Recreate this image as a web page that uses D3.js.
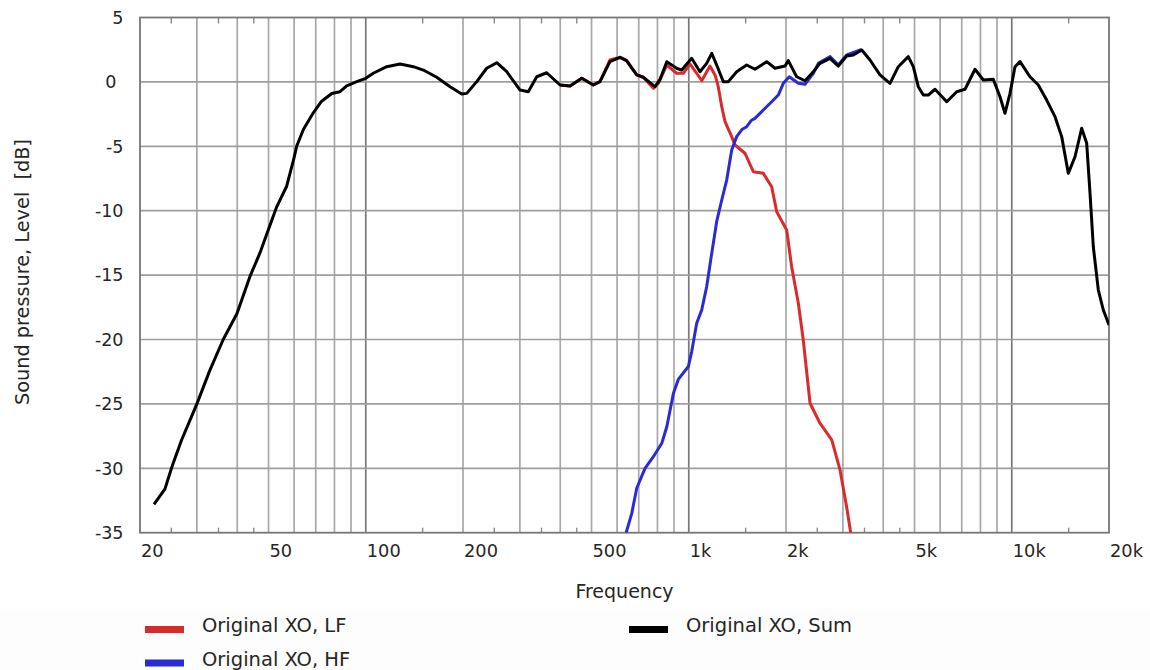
<!DOCTYPE html>
<html>
<head>
<meta charset="utf-8">
<script src="https://cdn.jsdelivr.net/npm/d3@7"></script>
<style>
  body { margin: 0; background: #fff; }
  svg text { font-family: "DejaVu Sans", Verdana, sans-serif; fill: #262626; }
</style>
</head>
<body>
<svg width="1150" height="670"></svg>
<script>
// Sum response (Hz / dB)
let sumFreq = [22.1, 23.9, 25.1, 26.9, 29.2, 30, 32.9, 36.2, 39.9, 43.8, 47, 49.9, 53, 56.9, 59.7,
  61.1, 64.1, 68.8, 73, 78.5, 83.2, 87.3, 93.8, 100, 105.5, 116.1, 127.7, 140.4, 150.7, 165.8,
  182.4, 198.2, 205.4, 220.6, 236.8, 254.4, 273.2, 300.4, 318.6, 338.3, 363.1, 399.4, 429, 466.4,
  506.4, 531, 570, 613, 642, 690, 723, 786, 815, 855, 917, 951, 1021, 1083, 1136, 1178, 1220,
  1279, 1326, 1407, 1511, 1603, 1743, 1849, 1986, 2033, 2158, 2290, 2430, 2548, 2738, 2904,
  3082, 3232, 3432, 3640, 3908, 4198, 4454, 4782, 4956, 5136, 5323, 5516, 5786, 6290, 6754,
  7166, 7694, 8164, 8766, 9194, 9528, 9874, 10232, 10606, 11386, 12080, 12826, 13610, 14274,
  14964, 15696, 16462, 17060, 17470, 17884, 18534, 19206, 20000];
let sumLevel = [-32.8, -31.6, -29.9, -27.8, -25.7, -25.0, -22.4, -20.0, -18.0, -15.1, -13.3, -11.5, -9.7, -8.1, -6.1,
  -5.0, -3.7, -2.4, -1.5, -0.9, -0.76, -0.3, 0.02, 0.28, 0.67, 1.18, 1.39, 1.18, 0.92, 0.36,
  -0.37, -0.94, -0.89, 0.02, 1.06, 1.49, 0.79, -0.63, -0.76, 0.4, 0.71, -0.24, -0.32, 0.28,
  -0.24, 0.02, 1.57, 1.91, 1.65, 0.54, 0.36, -0.37, 0.2, 1.57, 1.06, 0.92, 1.83, 0.79, 1.44, 2.22, 1.31,
  0.02, 0.02, 0.79, 1.31, 0.98, 1.57, 1.06, 1.23, 1.65, 0.4, 0.09, 0.79, 1.44, 1.83, 1.23,
  2.01, 2.09, 2.48, 1.7, 0.54, -0.11, 1.18, 1.96, 1.18, -0.37, -1.02, -1.02, -0.57, -1.54, -0.76,
  -0.57, 0.98, 0.15, 0.2, -1.15, -2.44, -0.89, 1.18, 1.57, 0.4, -0.24, -1.41, -2.7, -4.25,
  -7.1, -5.81, -3.6, -4.77, -8.65, -12.8, -16.16, -17.71, -18.87];

// LF branch
let lfFreq = [399.4, 429, 466.4, 506.4, 531, 570, 613, 642, 690, 723, 777, 805, 855, 917, 962,
  1009, 1058, 1097, 1163, 1206, 1234, 1265, 1295, 1358, 1390, 1493, 1584, 1701, 1806, 1872,
  2010, 2082, 2184, 2262, 2374, 2548, 2771, 2938, 3082, 3172];
let lfLevel = [-0.24, -0.32, 0.28, -0.24, 0.02, 1.7, 1.91, 1.65, 0.54, 0.36, -0.5, -0.11, 1.3, 0.67, 0.67,
  1.39, 0.67, 0.09, 1.23, 0.54, -0.37, -1.92, -3.09, -4.25, -4.9, -5.54, -6.97, -7.1, -8.14, -10.08,
  -11.5, -14.35, -17.19, -20.04, -24.95, -26.5, -27.8, -30.1, -33.0, -35.0];

// HF branch
let hfFreq = [640, 666, 690, 732, 777, 825, 855, 896, 928, 997, 1021, 1058, 1097, 1136, 1178,
  1220, 1265, 1311, 1358, 1407, 1460, 1511, 1560, 1603, 1701, 1806, 1893, 1962, 2047, 2184, 2290, 2430,
  2518, 2738, 2904, 3082, 3432];
let hfLevel = [-35, -33.5, -31.55, -30.0, -29.1, -28.06, -26.77, -24.2, -23.1, -22.1, -20.95, -18.74, -17.7, -15.9, -13.3,
  -10.85, -9.17, -7.6, -5.29, -4.25, -3.7, -3.48, -3.0, -2.83, -2.18, -1.54, -1.02, -0.11, 0.4, -0.11, -0.19, 0.67,
  1.44, 1.96, 1.31, 2.09, 2.53];

let xTickValues = [20, 50, 100, 200, 500, 1000, 2000, 5000, 10000, 20000];
let xTickLabels = ["20", "50", "100", "200", "500", "1k", "2k", "5k", "10k", "20k"];
let minorTicks = [25, 35, 45, 150, 250, 350, 450, 1500, 2500, 3500, 4500, 15000];
let decades = [100, 1000, 10000];
let yTicks = [5, 0, -5, -10, -15, -20, -25, -30, -35];

let seriesNames = ["Original XO, LF", "Original XO, HF", "Original XO, Sum"];
let seriesColors = ["#d92b2b", "#2b2bd6", "#000000"];

let svg = d3.select("svg"),
  plotLeft = 140,
  plotRight = 1109,
  plotTop = 17.5,
  plotBottom = 532.7;

let x = d3.scaleLog().domain([20, 20000]).range([plotLeft, plotRight]),
  y = d3.scaleLinear().domain([-35, 5]).range([plotBottom, plotTop]);

// vertical grid: 30..90, 100..900, 1k..10k
let gridFreqs = [];
[10, 100, 1000].forEach(function (d) {
  for (let k = 1; k <= 9; k++) {
    let f = d * k;
    if (f >= 30) gridFreqs.push(f);
  }
});
gridFreqs.push(10000);

let grid = svg.append("g");

grid.selectAll(".vg")
  .data(gridFreqs)
  .enter()
  .append("line")
  .attr("x1", function (d) { return x(d); })
  .attr("x2", function (d) { return x(d); })
  .attr("y1", plotTop)
  .attr("y2", plotBottom)
  .attr("stroke", function (d) { return decades.indexOf(d) >= 0 ? "#787878" : "#a8a8a8"; })
  .attr("stroke-width", 1.7);

grid.selectAll(".hg")
  .data(yTicks.filter(function (d) { return d > -35 && d < 5; }))
  .enter()
  .append("line")
  .attr("x1", plotLeft)
  .attr("x2", plotRight)
  .attr("y1", function (d) { return y(d); })
  .attr("y2", function (d) { return y(d); })
  .attr("stroke", "#9e9e9e")
  .attr("stroke-width", 1.7);

// minor ticks top and bottom
grid.selectAll(".mt")
  .data(minorTicks)
  .enter()
  .append("line")
  .attr("x1", function (d) { return x(d); })
  .attr("x2", function (d) { return x(d); })
  .attr("y1", plotTop)
  .attr("y2", plotTop + 6)
  .attr("stroke", "#8a8a8a")
  .attr("stroke-width", 1.4);

grid.selectAll(".mb")
  .data(minorTicks)
  .enter()
  .append("line")
  .attr("x1", function (d) { return x(d); })
  .attr("x2", function (d) { return x(d); })
  .attr("y1", plotBottom)
  .attr("y2", plotBottom - 5)
  .attr("stroke", "#8a8a8a")
  .attr("stroke-width", 1.4);

svg.append("rect")
  .attr("x", plotLeft)
  .attr("y", plotTop)
  .attr("width", plotRight - plotLeft)
  .attr("height", plotBottom - plotTop)
  .attr("fill", "none")
  .attr("stroke", "#777")
  .attr("stroke-width", 1.8);

// tick labels
svg.append("g")
  .selectAll("text")
  .data(yTicks)
  .enter()
  .append("text")
  .attr("x", 123.5)
  .attr("dx", function (d) { return d === 0 ? -7 : 0; })
  .attr("y", function (d) { return y(d); })
  .attr("dy", "0.36em")
  .attr("text-anchor", "end")
  .style("font-size", "17.5px")
  .text(function (d) { return d; });

svg.append("g")
  .selectAll("text")
  .data(xTickValues)
  .enter()
  .append("text")
  .attr("x", function (d) { return x(d) + 1; })
  .attr("y", 556.5)
  .style("font-size", "17.8px")
  .text(function (d, i) { return xTickLabels[i]; });

svg.append("text")
  .attr("x", (plotLeft + plotRight) / 2)
  .attr("y", 598)
  .attr("text-anchor", "middle")
  .style("font-size", "19px")
  .text("Frequency");

svg.append("text")
  .attr("transform", "translate(29,272) rotate(-90)")
  .attr("text-anchor", "middle")
  .style("font-size", "19.3px")
  .style("white-space", "pre")
  .text("Sound pressure, Level  [dB]");

// curves
svg.append("clipPath")
  .attr("id", "plotclip")
  .append("rect")
  .attr("x", plotLeft)
  .attr("y", plotTop)
  .attr("width", plotRight - plotLeft)
  .attr("height", plotBottom - plotTop);

let line = d3.line()
  .x(function (d) { return x(d[0]); })
  .y(function (d) { return y(d[1]); });

function pairs(f, v) {
  return f.map(function (d, i) { return [d, v[i]]; });
}

let curves = [pairs(lfFreq, lfLevel), pairs(hfFreq, hfLevel), pairs(sumFreq, sumLevel)];

svg.append("g")
  .attr("clip-path", "url(#plotclip)")
  .selectAll("path")
  .data(curves)
  .enter()
  .append("path")
  .attr("d", line)
  .attr("fill", "none")
  .attr("stroke", function (d, i) { return seriesColors[i]; })
  .attr("stroke-width", 3)
  .attr("stroke-linejoin", "round");

// legend
svg.append("rect")
  .attr("x", 0)
  .attr("y", 609)
  .attr("width", 1150)
  .attr("height", 61)
  .attr("fill", "#fdfdfd");

let legendPos = [[145, 626], [145, 659.5], [629, 626]];

let legend = svg.append("g")
  .selectAll("g")
  .data(seriesNames)
  .enter()
  .append("g")
  .attr("transform", function (d, i) { return "translate(" + legendPos[i][0] + "," + legendPos[i][1] + ")"; });

legend.append("rect")
  .attr("width", 39)
  .attr("height", 7)
  .attr("fill", function (d, i) { return seriesColors[i]; });

legend.append("text")
  .attr("x", 57)
  .attr("y", 6)
  .style("font-size", "19.5px")
  .text(function (d) { return d; });
</script>
</body>
</html>
